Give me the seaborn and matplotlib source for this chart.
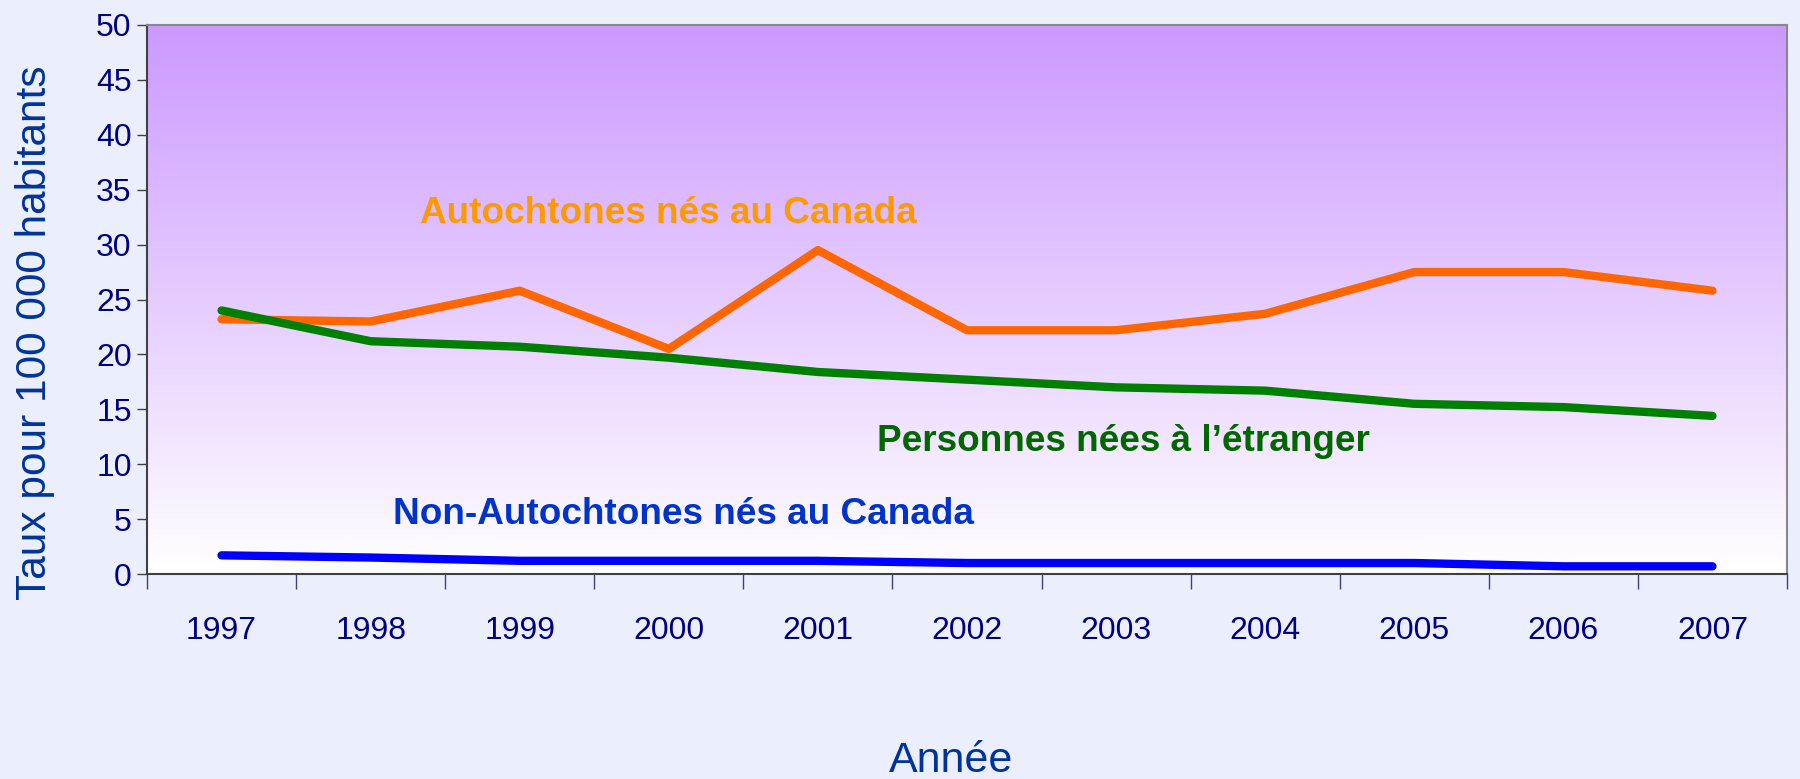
import numpy as np
import pandas as pd
import seaborn as sns
import matplotlib.pyplot as plt
from matplotlib.ticker import FixedLocator

years = ['1997', '1998', '1999', '2000', '2001', '2002', '2003', '2004', '2005', '2006', '2007']
autochtones = [23.2, 23.0, 25.8, 20.5, 29.5, 22.2, 22.2, 23.7, 27.5, 27.5, 25.8]
etranger = [24.0, 21.2, 20.7, 19.7, 18.4, 17.7, 17.0, 16.7, 15.5, 15.2, 14.4]
non_autochtones = [1.7, 1.5, 1.2, 1.2, 1.2, 1.0, 1.0, 1.0, 1.0, 0.7, 0.7]

series_names = ['Autochtones nés au Canada', 'Personnes nées à l’étranger', 'Non-Autochtones nés au Canada']
line_colors = ['#FF6600', '#008000', '#0000FF']
text_colors = ['#FF9900', '#006600', '#0033CC']

df = pd.DataFrame({
    'annee': years * 3,
    'taux': autochtones + etranger + non_autochtones,
    'groupe': [series_names[0]] * 11 + [series_names[1]] * 11 + [series_names[2]] * 11,
})

sns.set_theme(style='white')
plt.rcParams['font.family'] = ['Liberation Sans Narrow', 'Liberation Sans', 'DejaVu Sans']

fig = plt.figure(figsize=(18, 7.79), dpi=100, facecolor='#EBEEFC')
ax = fig.add_axes([147 / 1800, 1 - 574 / 779, (1787 - 147) / 1800, (574 - 25) / 779])

# gradient background: lavender at the top fading to white
grad = np.linspace(0, 1, 256).reshape(-1, 1)
top = np.array([0.80, 0.60, 1.0])
bot = np.array([1.0, 1.0, 1.0])
img = top[None, None, :] * (1 - grad[:, :, None]) + bot[None, None, :] * grad[:, :, None]
ax.imshow(img, extent=[0, 1, 0, 1], transform=ax.transAxes, aspect='auto', zorder=0)

sns.lineplot(data=df, x='annee', y='taux', hue='groupe', palette=dict(zip(series_names, line_colors)),
             linewidth=6, ax=ax, legend=False, zorder=3)
for ln in ax.lines:
    ln.set_solid_capstyle('round')

ax.set_xlim(-0.5, 10.5)
ax.set_ylim(0, 50)
ax.set_yticks(range(0, 51, 5))
ax.set_xticks(range(11))
ax.set_xticklabels(years)
ax.xaxis.set_minor_locator(FixedLocator(np.arange(-0.5, 11, 1)))
ax.tick_params(axis='x', which='major', length=0, pad=30, labelsize=23, labelcolor='#000080')
ax.tick_params(axis='x', which='minor', length=11, width=1, color='#404080', direction='out', bottom=True)
ax.tick_params(axis='y', length=7, width=1, color='#404040', direction='out', left=True,
               labelsize=23, labelcolor='#000080', pad=4)

for side in ['left', 'bottom']:
    ax.spines[side].set_color('#404040')
    ax.spines[side].set_linewidth(1.5)
for side in ['top', 'right']:
    ax.spines[side].set_color('#888888')
    ax.spines[side].set_linewidth(1.5)

ax.set_xlabel('Année', fontsize=31, color='#003399', family=['Liberation Sans', 'DejaVu Sans'])
ax.xaxis.set_label_coords(0.4905, -0.305)
ax.set_ylabel('Taux pour 100 000 habitants', fontsize=30.5, color='#003399',
              family=['Liberation Sans', 'DejaVu Sans'])
ax.yaxis.set_label_coords(-0.056, 0.44)

label_pos = [(3.0, 32.8), (6.05, 12.1), (3.1, 5.4)]
for name, col, (lx, ly) in zip(series_names, text_colors, label_pos):
    ax.text(lx, ly, name, color=col, fontsize=26.6, fontweight='bold', ha='center', va='center',
            family=['Liberation Sans', 'DejaVu Sans'], zorder=4)

fig.savefig('out.png', dpi=100, facecolor=fig.get_facecolor())
